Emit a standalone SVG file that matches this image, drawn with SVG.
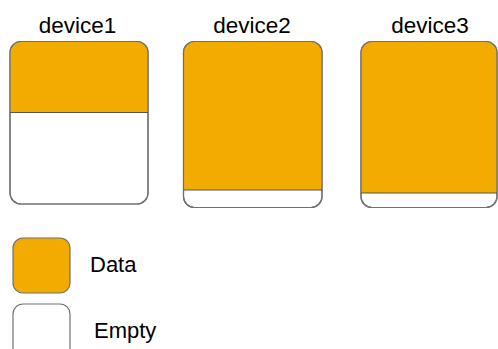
<svg xmlns="http://www.w3.org/2000/svg" width="498" height="349" viewBox="0 0 498 349">
<defs>
<style>
.box{fill:#ffffff;stroke:#707070;stroke-width:1.2}
.outline{fill:none;stroke:#707070;stroke-width:1.2}
.data{fill:#f2ab00}
.div{stroke:#555555;stroke-width:1.2}
.lbl{font-family:"Liberation Sans",Arial,sans-serif;fill:#000;text-anchor:middle;font-size:22.5px}
.leg{font-family:"Liberation Sans",Arial,sans-serif;fill:#000;font-size:22px}
</style>
<clipPath id="c1"><rect x="10" y="41.5" width="138" height="162.5" rx="11"/></clipPath>
<clipPath id="c2"><rect x="183.5" y="41.5" width="138.5" height="166" rx="11"/></clipPath>
<clipPath id="c3"><rect x="361" y="41.5" width="136" height="166" rx="11"/></clipPath>
</defs>
<rect width="498" height="349" fill="#ffffff"/>
<g id="device1">
<rect class="box" x="10" y="41.5" width="138" height="162.5" rx="11"/>
<rect class="data" x="10" y="41.5" width="138" height="71" clip-path="url(#c1)"/>
<rect class="outline" x="10" y="41.5" width="138" height="162.5" rx="11"/>
<line class="div" x1="10" y1="112.5" x2="148" y2="112.5"/>
<text class="lbl" x="77.5" y="33.3">device1</text>
</g>
<g id="device2">
<rect class="box" x="183.5" y="41.5" width="138.5" height="166" rx="11"/>
<rect class="data" x="183.5" y="41.5" width="138.5" height="148.5" clip-path="url(#c2)"/>
<rect class="outline" x="183.5" y="41.5" width="138.5" height="166" rx="11"/>
<line class="div" x1="183.5" y1="190" x2="322" y2="190"/>
<text class="lbl" x="252" y="33.3">device2</text>
</g>
<g id="device3">
<rect class="box" x="361" y="41.5" width="136" height="166" rx="11"/>
<rect class="data" x="361" y="41.5" width="136" height="151.5" clip-path="url(#c3)"/>
<rect class="outline" x="361" y="41.5" width="136" height="166" rx="11"/>
<line class="div" x1="361" y1="193" x2="497" y2="193"/>
<text class="lbl" x="430" y="33.3">device3</text>
</g>
<g id="legend-data">
<rect x="13" y="238" width="57" height="55" rx="10" fill="#f2ab00" stroke="#707070" stroke-width="1.2"/>
<text class="leg" x="90" y="272">Data</text>
</g>
<g id="legend-empty">
<rect class="box" x="13" y="304" width="57" height="55" rx="10"/>
<text class="leg" x="94" y="338">Empty</text>
</g>
<g id="connectors"/>
</svg>
